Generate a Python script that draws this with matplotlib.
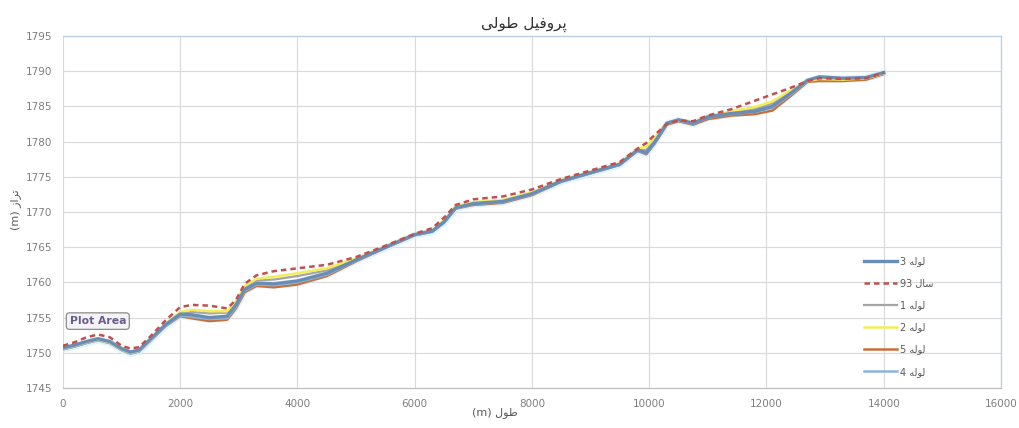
import matplotlib
matplotlib.use("Agg")
import matplotlib.pyplot as plt

# فاصله طولی (m)
dist = [0, 200, 400, 600, 800, 1000, 1150, 1300, 1500, 1750, 2000, 2200, 2500, 2800,
        2950, 3100, 3300, 3600, 4000, 4500, 5000, 5500, 6000, 6300, 6500, 6700, 7000,
        7500, 8000, 8500, 9000, 9500, 9800, 9950, 10100, 10300, 10500, 10750, 11000,
        11400, 11800, 12100, 12400, 12700, 12900, 13300, 13700, 14000]

pipe3 = [1750.7, 1751.1, 1751.6, 1752.0, 1751.6, 1750.6, 1750.1, 1750.4, 1752.0, 1754.0,
         1755.5, 1755.4, 1755.0, 1755.2, 1756.8, 1759.0, 1759.9, 1759.8, 1760.2, 1761.3,
         1763.2, 1765.0, 1766.8, 1767.3, 1768.6, 1770.6, 1771.2, 1771.5, 1772.6, 1774.4,
         1775.6, 1776.8, 1778.8, 1778.4, 1780.0, 1782.6, 1783.1, 1782.6, 1783.5, 1784.0,
         1784.3, 1785.0, 1786.8, 1788.7, 1789.2, 1789.0, 1789.1, 1789.8]

year93 = [1751.0, 1751.5, 1752.2, 1752.6, 1752.2, 1751.0, 1750.6, 1750.8, 1752.4, 1754.6,
          1756.5, 1756.8, 1756.7, 1756.3, 1757.5, 1759.8, 1761.0, 1761.6, 1762.0, 1762.5,
          1763.6, 1765.2, 1766.9, 1767.7, 1769.2, 1771.0, 1771.8, 1772.2, 1773.2, 1774.7,
          1775.9, 1777.1, 1779.0, 1779.8, 1781.0, 1782.5, 1783.0, 1782.9, 1783.7, 1784.6,
          1785.8, 1786.7, 1787.6, 1788.6, 1789.0, 1788.9, 1789.0, 1789.8]

pipe1 = [1750.6, 1751.0, 1751.5, 1751.9, 1751.5, 1750.5, 1750.0, 1750.3, 1751.9, 1754.0,
         1755.6, 1755.8, 1755.6, 1755.7, 1757.2, 1759.4, 1760.3, 1760.4, 1760.9, 1761.7,
         1763.3, 1765.0, 1766.8, 1767.3, 1768.7, 1770.7, 1771.3, 1771.6, 1772.7, 1774.4,
         1775.6, 1776.8, 1778.9, 1778.8, 1780.3, 1782.7, 1783.1, 1782.7, 1783.5, 1784.1,
         1784.6, 1785.4, 1787.0, 1788.6, 1789.0, 1788.9, 1789.0, 1789.7]

pipe2 = [1750.6, 1751.0, 1751.5, 1751.9, 1751.5, 1750.5, 1750.0, 1750.3, 1751.9, 1754.1,
         1755.8, 1756.1, 1755.9, 1755.9, 1757.3, 1759.5, 1760.5, 1760.8, 1761.3, 1762.0,
         1763.4, 1765.1, 1766.8, 1767.4, 1768.8, 1770.8, 1771.4, 1771.7, 1772.8, 1774.5,
         1775.7, 1776.9, 1779.0, 1779.3, 1780.6, 1782.7, 1783.0, 1782.7, 1783.6, 1784.3,
         1784.9, 1785.7, 1787.2, 1788.6, 1788.9, 1788.8, 1789.0, 1789.7]

pipe5 = [1750.5, 1750.9, 1751.4, 1751.8, 1751.4, 1750.4, 1749.9, 1750.2, 1751.8, 1753.8,
         1755.2, 1754.9, 1754.5, 1754.7, 1756.3, 1758.6, 1759.5, 1759.3, 1759.7, 1760.9,
         1763.0, 1764.9, 1766.7, 1767.2, 1768.5, 1770.5, 1771.0, 1771.3, 1772.4, 1774.3,
         1775.5, 1776.7, 1778.7, 1778.2, 1779.8, 1782.4, 1782.9, 1782.4, 1783.2, 1783.7,
         1783.9, 1784.4, 1786.4, 1788.5, 1788.6, 1788.6, 1788.8, 1789.6]

pipe4 = [1750.5, 1750.9, 1751.4, 1751.8, 1751.4, 1750.4, 1749.9, 1750.2, 1751.8, 1753.8,
         1755.3, 1755.1, 1754.8, 1754.9, 1756.5, 1758.8, 1759.7, 1759.6, 1760.0, 1761.1,
         1763.1, 1764.9, 1766.7, 1767.2, 1768.5, 1770.5, 1771.1, 1771.4, 1772.5, 1774.3,
         1775.5, 1776.7, 1778.7, 1778.3, 1779.9, 1782.5, 1783.0, 1782.5, 1783.4, 1783.9,
         1784.2, 1784.8, 1786.6, 1788.6, 1789.0, 1788.9, 1789.0, 1789.7]

# متن فارسی به صورت حروف شکل‌یافته و ترتیب دیداری (matplotlib شکل‌دهی ندارد)
title_txt = "\uFBFD\uFEDF\uFEEE\uFEC3 \uFEDE\uFBFF\uFED3\uFEED\uFEAE\uFB58"   # پروفیل طولی
xlabel_txt = "(m) \uFEDD\uFEEE\uFEC3"                                      # طول (m)
ylabel_txt = "(m) \uFEAF\uFE8D\uFEAE\uFE97"                                # تراز (m)
pipe_word = "\uFEEA\uFEDF\uFEEE\uFEDF"                                     # لوله
year_word = "\uFEDD\uFE8E\uFEB3"                                           # سال

labels = ["3 " + pipe_word, "93 " + year_word, "1 " + pipe_word,
          "2 " + pipe_word, "5 " + pipe_word, "4 " + pipe_word]

xticks = list(range(0, 16001, 2000))
yticks = list(range(1745, 1796, 5))

fig = plt.figure(figsize=(10.19, 4.28), dpi=100)
ax = fig.add_axes([0.0618, 0.0935, 0.9205, 0.8224])

tick_col = "#7f7f7f"
ax.grid(True, color="#d9d9d9", linewidth=0.8)
ax.set_axisbelow(True)

# هاله آبی کمرنگ زیر خطوط (مثل سایه اکسل)
ax.plot(dist, pipe4, color="#d6f1fb", linewidth=5, alpha=0.8)

l5, = ax.plot(dist, pipe5, color="#c8703a", linewidth=1.8)
l4, = ax.plot(dist, pipe4, color="#8fb4e0", linewidth=1.8)
l1, = ax.plot(dist, pipe1, color="#a5a5a5", linewidth=1.6)
l2, = ax.plot(dist, pipe2, color="#f2ee5a", linewidth=1.8)
l3, = ax.plot(dist, pipe3, color="#6a8db5", linewidth=2.4)
l93, = ax.plot(dist, year93, color="#c0504d", linewidth=1.8, linestyle=(0, (2.2, 1.6)))

ax.set_xlim(0, 16000)
ax.set_ylim(1745, 1795)
ax.set_xticks(xticks)
ax.set_yticks(yticks)
ax.tick_params(colors=tick_col, labelsize=7.5, length=0, pad=8)
for s in ax.spines.values():
    s.set_color("#b9cde5")
    s.set_linewidth(0.9)
ax.spines["bottom"].set_color("#bfbfbf")
ax.spines["left"].set_visible(False)

leg = ax.legend([l3, l93, l1, l2, l5, l4], labels, loc="upper left",
                bbox_to_anchor=(0.845, 0.4), frameon=False, fontsize=7,
                handlelength=3.4, labelspacing=1.25, handletextpad=0.3)
for t in leg.get_texts():
    t.set_color("#595959")

fig.text(524 / 1019, 1 - 24 / 428, title_txt, ha="center", va="center",
         fontsize=11, color="#303030")
fig.text(495 / 1019, 1 - 413 / 428, xlabel_txt, ha="center", va="center",
         fontsize=8, color="#595959")
fig.text(16 / 1019, 1 - 210 / 428, ylabel_txt, ha="center", va="center",
         fontsize=8, color="#595959", rotation=90)

# برچسب انتخاب Plot Area در اکسل
ax.text(0.007, 0.19, "Plot Area", transform=ax.transAxes, fontsize=7.8,
        color="#6b5b8a", fontweight="bold", va="center",
        bbox=dict(boxstyle="round,pad=0.3", facecolor="#f4f4f8",
                  edgecolor="#8c8c8c", linewidth=0.9))

fig.savefig("out.png", dpi=100)
